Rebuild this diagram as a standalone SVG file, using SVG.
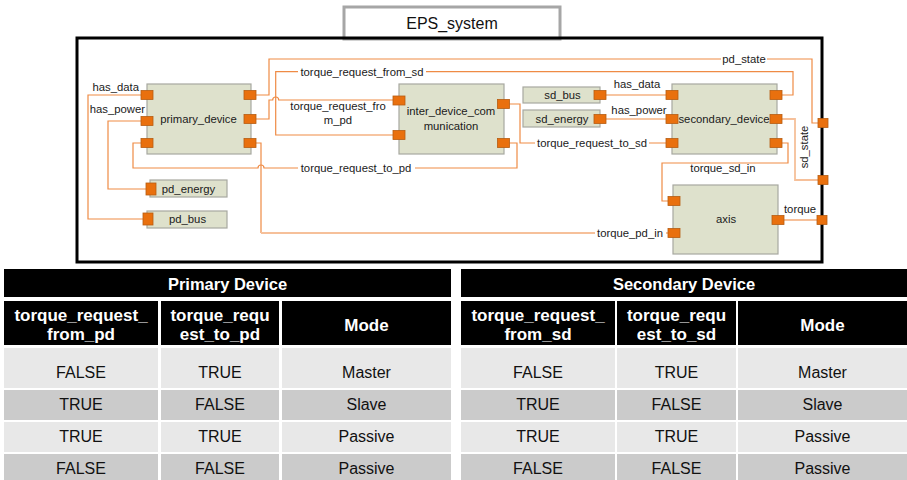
<svg xmlns="http://www.w3.org/2000/svg" width="907" height="480" viewBox="0 0 907 480">
  <style>
    .node { fill: #dee1cc; stroke: #a7a8a0; stroke-width: 1.2; }
    .port { fill: #e9700e; stroke: #b65d12; stroke-width: 0.8; }
    .wire { fill: none; stroke: #ef8b45; stroke-width: 1.2; }
    .wire-lt { fill: none; stroke: #f6c09a; stroke-width: 1.8; }
    .lbl { font-family: "Liberation Sans", Arial, sans-serif; font-size: 11.3px; fill: #1a1a1a; }
    .mid { text-anchor: middle; }
    .end { text-anchor: end; }
    .bg { fill: #ffffff; }
    .hd { fill: #000000; }
    .light { fill: #e8e8e8; }
    .dark { fill: #cbcbcb; }
    .th { font-family: "Liberation Sans", Arial, sans-serif; font-weight: bold; fill: #ffffff; text-anchor: middle; }
    .td { font-family: "Liberation Sans", Arial, sans-serif; font-size: 16px; fill: #111111; text-anchor: middle; }
  </style>

  <rect x="0" y="0" width="907" height="480" fill="#ffffff"/>

  <!-- system frame with its title tab -->
  <g id="EPS_system">
    <rect x="344" y="7" width="216" height="32" fill="#ffffff" stroke="#a6a6a6" stroke-width="3"/>
    <text x="452" y="29" font-family="'Liberation Sans', Arial, sans-serif" font-size="16" fill="#111" text-anchor="middle">EPS_system</text>
    <rect x="77" y="38" width="745" height="224" fill="none" stroke="#000000" stroke-width="3"/>
  </g>

  <!-- connectors -->
  <g id="connectors">
    <!-- has_data (pd side) -->
    <path class="wire" d="M141,95 H88 V219 H143"/>
    <!-- has_power (pd side) -->
    <path class="wire" d="M141,121 H108 V189 H146"/>
    <!-- torque_request_to_pd, hops over the torque_pd_in riser -->
    <path class="wire" d="M509.5,143 H517 V168 H264 A3,3 0 0 0 258,168 H133 V143 H141"/>
    <!-- torque_pd_in -->
    <path class="wire" d="M256,143 H261 V233"/>
    <path class="wire-lt" d="M261,233 H668"/>
    <!-- pd_state -->
    <path class="wire" d="M256,95 H269 V59 H812 V123 H818"/>
    <!-- torque_request_from_pd, hops over torque_request_from_sd -->
    <path class="wire" d="M256,119 H269 V100 H272.7 A3,3 0 0 1 278.7,100 H393"/>
    <!-- torque_request_from_sd -->
    <path class="wire" d="M393,135 H275.7 V71.7 H793 V95 H782"/>
    <!-- torque_request_to_sd -->
    <path class="wire" d="M509.5,104 H520 V143 H666"/>
    <!-- has_data / has_power (sd side) -->
    <path class="wire" d="M606,95 H666"/>
    <path class="wire" d="M606,119 H666"/>
    <!-- sd_state -->
    <path class="wire-lt" d="M782,119 H795 V180 H818"/>
    <!-- torque_sd_in -->
    <path class="wire" d="M782,143 H788 V163 H662 V201 H668"/>
    <!-- torque -->
    <path class="wire-lt" d="M784,220 H817"/>

    <!-- connector labels -->
    <text class="lbl end" x="139" y="91">has_data</text>
    <text class="lbl end" x="145" y="113">has_power</text>
    <text class="lbl mid" x="338" y="110">torque_request_fro</text>
    <text class="lbl mid" x="338" y="124">m_pd</text>
    <rect class="bg" x="298" y="65" width="128" height="13"/>
    <text class="lbl mid" x="362" y="76">torque_request_from_sd</text>
    <rect class="bg" x="298" y="161" width="117" height="13"/>
    <text class="lbl mid" x="356" y="172">torque_request_to_pd</text>
    <rect class="bg" x="721" y="52" width="46" height="13"/>
    <text class="lbl mid" x="744" y="63">pd_state</text>
    <text class="lbl mid" x="637" y="88">has_data</text>
    <text class="lbl mid" x="639" y="114">has_power</text>
    <rect class="bg" x="535" y="136" width="114" height="13"/>
    <text class="lbl mid" x="592" y="147">torque_request_to_sd</text>
    <text class="lbl mid" x="723" y="172">torque_sd_in</text>
    <rect class="bg" x="595" y="226" width="71" height="13"/>
    <text class="lbl mid" x="630" y="237">torque_pd_in</text>
    <text class="lbl mid" x="800" y="213">torque</text>
    <text class="lbl mid" transform="translate(808,147) rotate(-90)">sd_state</text>
  </g>

  <!-- nodes -->
  <g id="primary_device">
    <rect class="node" x="147" y="84" width="104" height="70"/>
    <text class="lbl mid" x="198.5" y="123">primary_device</text>
    <rect class="port" x="141" y="90.5" width="12" height="9"/>
    <rect class="port" x="141" y="116.5" width="12" height="9"/>
    <rect class="port" x="141" y="138.5" width="12" height="9"/>
    <rect class="port" x="244" y="90.5" width="12" height="9"/>
    <rect class="port" x="244" y="114.5" width="12" height="9"/>
    <rect class="port" x="244" y="138.5" width="12" height="9"/>
  </g>

  <g id="inter_device_communication">
    <rect class="node" x="399" y="84" width="105" height="70"/>
    <text class="lbl mid" x="451" y="115">inter_device_com</text>
    <text class="lbl mid" x="451" y="129.5">munication</text>
    <rect class="port" x="393" y="96" width="12" height="9"/>
    <rect class="port" x="393" y="130.5" width="12" height="9"/>
    <rect class="port" x="497.5" y="99.5" width="12" height="9"/>
    <rect class="port" x="497.5" y="138.5" width="12" height="9"/>
  </g>

  <g id="sd_bus">
    <rect class="node" x="523" y="87" width="77" height="16"/>
    <text class="lbl mid" x="562.5" y="98.5">sd_bus</text>
    <rect class="port" x="594" y="90.5" width="12" height="9"/>
  </g>

  <g id="sd_energy">
    <rect class="node" x="523" y="110" width="77" height="17"/>
    <text class="lbl mid" x="562" y="122.5">sd_energy</text>
    <rect class="port" x="594" y="114.5" width="12" height="9"/>
  </g>

  <g id="secondary_device">
    <rect class="node" x="672" y="84" width="105" height="70"/>
    <text class="lbl mid" x="724" y="122.7">secondary_device</text>
    <rect class="port" x="666" y="90.5" width="12" height="9"/>
    <rect class="port" x="666" y="114.5" width="12" height="9"/>
    <rect class="port" x="666" y="138.5" width="12" height="9"/>
    <rect class="port" x="770" y="90.5" width="12" height="9"/>
    <rect class="port" x="770" y="114.5" width="12" height="9"/>
    <rect class="port" x="770" y="138.5" width="12" height="9"/>
  </g>

  <g id="axis">
    <rect class="node" x="673" y="185" width="105" height="69"/>
    <text class="lbl mid" x="726" y="222.7">axis</text>
    <rect class="port" x="668" y="196.5" width="12" height="9"/>
    <rect class="port" x="668" y="228.5" width="12" height="9"/>
    <rect class="port" x="772" y="215.5" width="12" height="9"/>
  </g>

  <g id="pd_energy">
    <rect class="node" x="150" y="180" width="77" height="17"/>
    <text class="lbl mid" x="188.5" y="192.7">pd_energy</text>
    <rect class="port" x="146" y="183" width="10" height="12"/>
  </g>

  <g id="pd_bus">
    <rect class="node" x="147" y="211" width="80" height="17"/>
    <text class="lbl mid" x="187.5" y="223.3">pd_bus</text>
    <rect class="port" x="143" y="213" width="10" height="12"/>
  </g>

  <g id="system_ports">
    <rect class="port" x="818" y="118.5" width="10" height="9"/>
    <rect class="port" x="818" y="175.5" width="10" height="9"/>
    <rect class="port" x="817" y="215.5" width="10" height="9"/>
  </g>

  <!-- mode table: primary device -->
  <g id="table_primary">
    <rect class="hd" x="4" y="269" width="447" height="28"/>
    <text class="th" x="227.5" y="290" font-size="16.5">Primary Device</text>
    <rect class="hd" x="4" y="301" width="154" height="44"/>
    <rect class="hd" x="161" y="301" width="118" height="44"/>
    <rect class="hd" x="282" y="301" width="169" height="44"/>
    <text class="th" x="81" y="321" font-size="17">torque_request_</text>
    <text class="th" x="81" y="340" font-size="17">from_pd</text>
    <text class="th" x="220" y="321" font-size="17">torque_requ</text>
    <text class="th" x="220" y="340" font-size="17">est_to_pd</text>
    <text class="th" x="366.5" y="331" font-size="17">Mode</text>

    <rect class="light" x="4" y="348" width="154" height="40"/>
    <rect class="light" x="161" y="348" width="118" height="40"/>
    <rect class="light" x="282" y="348" width="169" height="40"/>
    <rect class="dark" x="4" y="390" width="154" height="30"/>
    <rect class="dark" x="161" y="390" width="118" height="30"/>
    <rect class="dark" x="282" y="390" width="169" height="30"/>
    <rect class="light" x="4" y="422" width="154" height="30"/>
    <rect class="light" x="161" y="422" width="118" height="30"/>
    <rect class="light" x="282" y="422" width="169" height="30"/>
    <rect class="dark" x="4" y="454" width="154" height="26"/>
    <rect class="dark" x="161" y="454" width="118" height="26"/>
    <rect class="dark" x="282" y="454" width="169" height="26"/>

    <text class="td" x="81" y="378">FALSE</text>
    <text class="td" x="220" y="378">TRUE</text>
    <text class="td" x="366.5" y="378">Master</text>
    <text class="td" x="81" y="410">TRUE</text>
    <text class="td" x="220" y="410">FALSE</text>
    <text class="td" x="366.5" y="410">Slave</text>
    <text class="td" x="81" y="442">TRUE</text>
    <text class="td" x="220" y="442">TRUE</text>
    <text class="td" x="366.5" y="442">Passive</text>
    <text class="td" x="81" y="474">FALSE</text>
    <text class="td" x="220" y="474">FALSE</text>
    <text class="td" x="366.5" y="474">Passive</text>
  </g>

  <!-- mode table: secondary device -->
  <g id="table_secondary">
    <rect class="hd" x="461" y="269" width="446" height="28"/>
    <text class="th" x="684" y="290" font-size="16.5">Secondary Device</text>
    <rect class="hd" x="461" y="301" width="154" height="44"/>
    <rect class="hd" x="617" y="301" width="119" height="44"/>
    <rect class="hd" x="738" y="301" width="169" height="44"/>
    <text class="th" x="538" y="321" font-size="17">torque_request_</text>
    <text class="th" x="538" y="340" font-size="17">from_sd</text>
    <text class="th" x="676.5" y="321" font-size="17">torque_requ</text>
    <text class="th" x="676.5" y="340" font-size="17">est_to_sd</text>
    <text class="th" x="822.5" y="331" font-size="17">Mode</text>

    <rect class="light" x="461" y="348" width="154" height="40"/>
    <rect class="light" x="617" y="348" width="119" height="40"/>
    <rect class="light" x="738" y="348" width="169" height="40"/>
    <rect class="dark" x="461" y="390" width="154" height="30"/>
    <rect class="dark" x="617" y="390" width="119" height="30"/>
    <rect class="dark" x="738" y="390" width="169" height="30"/>
    <rect class="light" x="461" y="422" width="154" height="30"/>
    <rect class="light" x="617" y="422" width="119" height="30"/>
    <rect class="light" x="738" y="422" width="169" height="30"/>
    <rect class="dark" x="461" y="454" width="154" height="26"/>
    <rect class="dark" x="617" y="454" width="119" height="26"/>
    <rect class="dark" x="738" y="454" width="169" height="26"/>

    <text class="td" x="538" y="378">FALSE</text>
    <text class="td" x="676.5" y="378">TRUE</text>
    <text class="td" x="822.5" y="378">Master</text>
    <text class="td" x="538" y="410">TRUE</text>
    <text class="td" x="676.5" y="410">FALSE</text>
    <text class="td" x="822.5" y="410">Slave</text>
    <text class="td" x="538" y="442">TRUE</text>
    <text class="td" x="676.5" y="442">TRUE</text>
    <text class="td" x="822.5" y="442">Passive</text>
    <text class="td" x="538" y="474">FALSE</text>
    <text class="td" x="676.5" y="474">FALSE</text>
    <text class="td" x="822.5" y="474">Passive</text>
  </g>
</svg>
